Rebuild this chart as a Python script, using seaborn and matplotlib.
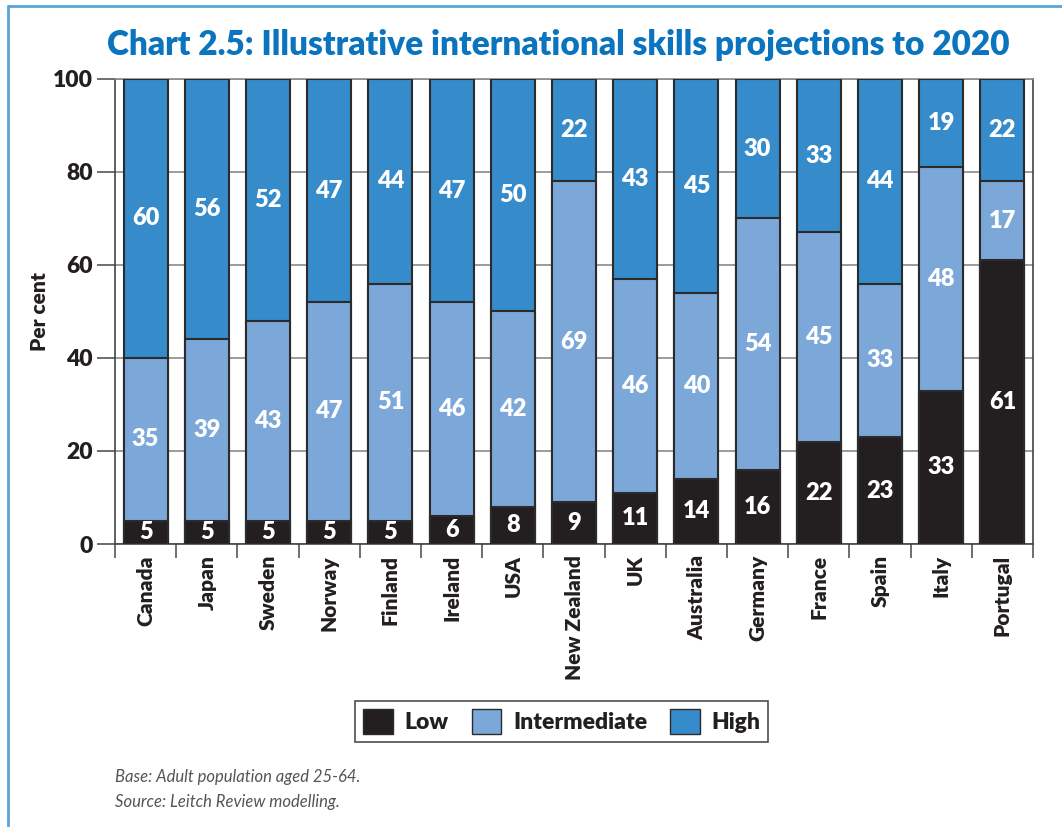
import numpy as np
import pandas as pd
import matplotlib
matplotlib.use("Agg")
import matplotlib.pyplot as plt
import seaborn as sns
from matplotlib.patches import Patch
from matplotlib.ticker import FixedLocator

# Chart data
countries = ['Canada', 'Japan', 'Sweden', 'Norway', 'Finland', 'Ireland', 'USA',
             'New Zealand', 'UK', 'Australia', 'Germany', 'France', 'Spain', 'Italy', 'Portugal']
low = [5, 5, 5, 5, 5, 6, 8, 9, 11, 14, 16, 22, 23, 33, 61]
intermediate = [35, 39, 43, 47, 51, 46, 42, 69, 46, 40, 54, 45, 33, 48, 17]
high = [60, 56, 52, 47, 44, 47, 50, 22, 43, 45, 30, 33, 44, 19, 22]
total = [100] * 15  # every bar is drawn up to 100 per cent

df = pd.DataFrame({'country': countries, 'Low': low,
                   'Intermediate': intermediate, 'High': high, 'total': total})
df['low_top'] = df['Low']
df['int_top'] = df['Low'] + df['Intermediate']

c_low = '#231f20'
c_int = '#7ba7d9'
c_high = '#368ccb'
edge = '#2b2b2b'
txt = '#231f20'
W = 'heavy'

sns.set_style('white')
plt.rcParams['font.family'] = ['Lato', 'DejaVu Sans']
plt.rcParams['font.weight'] = W

fig = plt.figure(figsize=(10.62, 8.27), dpi=100)
ax = fig.add_axes([0.1083, 0.3422, 0.8644, 0.5623])

# stacked bars drawn tallest first
for col, colour in [('total', c_high), ('int_top', c_int), ('low_top', c_low)]:
    sns.barplot(data=df, x='country', y=col, color=colour, width=0.72,
                edgecolor=edge, linewidth=1.5, saturation=1, ax=ax, zorder=3)

# segment labels
for i, row in df.iterrows():
    ax.text(i, row['Low'] / 2, str(row['Low']), ha='center', va='center',
            color='white', fontsize=17, fontweight=W, zorder=5)
    ax.text(i, row['Low'] + row['Intermediate'] / 2, str(row['Intermediate']),
            ha='center', va='center', color='white', fontsize=17, fontweight=W, zorder=5)
    ax.text(i, row['int_top'] + (row['total'] - row['int_top']) / 2, str(row['High']),
            ha='center', va='center', color='white', fontsize=17, fontweight=W, zorder=5)

ax.set_ylim(0, 100)
ax.set_xlim(-0.5, len(countries) - 0.5)
ax.set_yticks([0, 20, 40, 60, 80, 100])
ax.set_yticklabels(['0', '20', '40', '60', '80', '100'], fontsize=16.5, fontweight=W, color=txt)
ax.yaxis.grid(True, color='#8a8a8a', linewidth=1.2, zorder=0)
ax.set_axisbelow(True)
ax.tick_params(axis='y', length=13, width=1.2, color='#555555', pad=3, left=True)

ax.set_xticks(range(len(countries)))
ax.set_xticklabels(countries, rotation=90, fontsize=15, fontweight=W, color=txt)
ax.tick_params(axis='x', which='major', length=0, pad=8)
ax.xaxis.set_minor_locator(FixedLocator(np.arange(-0.5, len(countries), 1)))
ax.tick_params(axis='x', which='minor', length=10, width=1.2, color='#555555', bottom=True)

ax.set_xlabel('')
ax.set_ylabel('Per cent', fontsize=15, fontweight=W, color=txt, labelpad=3)

for side in ['left', 'bottom', 'right']:
    ax.spines[side].set_color('#444444')
    ax.spines[side].set_linewidth(1.2)
ax.spines['top'].set_color('#8a8a8a')
ax.spines['top'].set_linewidth(1.2)

fig.text(0.526, 0.945, 'Chart 2.5: Illustrative international skills projections to 2020',
         ha='center', va='center', fontsize=24, fontweight=W, color='#0a74bf')

handles = [Patch(facecolor=c_low, edgecolor=edge, label='Low'),
           Patch(facecolor=c_int, edgecolor=edge, label='Intermediate'),
           Patch(facecolor=c_high, edgecolor=edge, label='High')]
leg = fig.legend(handles=handles, loc='center', bbox_to_anchor=(0.529, 0.128),
                 ncol=3, frameon=True, fancybox=False, fontsize=16.5, handlelength=1.3,
                 handleheight=1.3, columnspacing=1.0, handletextpad=0.5, borderpad=0.35)
leg.get_frame().set_edgecolor('#231f20')
leg.get_frame().set_linewidth(1.2)
for t in leg.get_texts():
    t.set_fontweight(W)
    t.set_color(txt)

fig.text(0.108, 0.0605, 'Base: Adult population aged 25-64.', fontsize=12, va='center',
         style='italic', fontweight='normal', color='#555555')
fig.text(0.108, 0.030, 'Source: Leitch Review modelling.', fontsize=12, va='center',
         style='italic', fontweight='normal', color='#555555')

# light blue page frame (top and left edges)
fig.add_artist(plt.Line2D([0.008, 1.0], [0.993, 0.993], color='#5aa5d8', linewidth=2,
                          transform=fig.transFigure))
fig.add_artist(plt.Line2D([0.008, 0.008], [0.0, 0.993], color='#5aa5d8', linewidth=2,
                          transform=fig.transFigure))

fig.savefig('out.png', dpi=100)
